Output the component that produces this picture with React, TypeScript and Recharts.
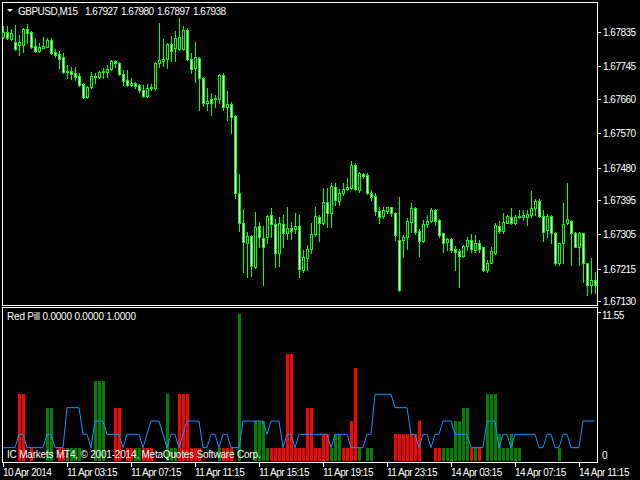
import React from "react";
import { ComposedChart, Bar, Line, XAxis, YAxis } from "recharts";

// GBPUSD M15 candles, left to right (149 bars)
const openPx = [
  1.67822, 1.67835, 1.67817, 1.67809, 1.67801, 1.67801, 1.67843, 1.67835, 1.67798, 1.67785,
  1.67793, 1.67796, 1.67814, 1.67783, 1.67777, 1.6777, 1.6773, 1.67733, 1.67728, 1.6772,
  1.67699, 1.67665, 1.67691, 1.6772, 1.67717, 1.6773, 1.6773, 1.67738, 1.67759, 1.67754,
  1.67725, 1.67709, 1.67696, 1.67701, 1.67696, 1.67683, 1.67667, 1.67688, 1.67688, 1.67754,
  1.67759, 1.67764, 1.67804, 1.67793, 1.6779, 1.6779, 1.6784, 1.67764, 1.67741, 1.67767,
  1.67714, 1.67649, 1.67659, 1.67659, 1.67659, 1.67722, 1.67639, 1.67646, 1.67615, 1.67413,
  1.67335, 1.67282, 1.67301, 1.67219, 1.67327, 1.67295, 1.67298, 1.67356, 1.67332, 1.67256,
  1.67332, 1.67308, 1.67321, 1.67319, 1.67327, 1.67211, 1.67243, 1.67266, 1.67306, 1.6735,
  1.67335, 1.6739, 1.67361, 1.67429, 1.67392, 1.67413, 1.67424, 1.67426, 1.67487, 1.67421,
  1.67463, 1.6746, 1.67413, 1.67405, 1.67366, 1.67353, 1.67366, 1.67376, 1.67361, 1.6729,
  1.6729, 1.67298, 1.67337, 1.67374, 1.67314, 1.67287, 1.67332, 1.6734, 1.67369, 1.67342,
  1.67308, 1.67285, 1.67293, 1.67266, 1.67261, 1.67248, 1.67274, 1.6729, 1.67264, 1.67282,
  1.67272, 1.67211, 1.6723, 1.67256, 1.67327, 1.67314, 1.67335, 1.6735, 1.67335, 1.6735,
  1.6735, 1.6735, 1.67356, 1.67374, 1.67392, 1.67353, 1.67316, 1.67353, 1.67308, 1.6723,
  1.67282, 1.67335, 1.6734, 1.67308, 1.67272, 1.67308, 1.6723, 1.67172, 1.67185,
];
const highPx = [
  1.67851, 1.67851, 1.67843, 1.67853, 1.67827, 1.67845, 1.67856, 1.67838, 1.67819, 1.67806,
  1.67822, 1.67819, 1.67819, 1.6779, 1.67785, 1.6778, 1.67749, 1.67743, 1.67743, 1.67728,
  1.67701, 1.67694, 1.6773, 1.67728, 1.67733, 1.67741, 1.67749, 1.67762, 1.67762, 1.67756,
  1.67735, 1.67735, 1.67714, 1.67704, 1.67699, 1.67696, 1.67699, 1.67699, 1.67756, 1.67859,
  1.67817, 1.67806, 1.67825, 1.67838, 1.67872, 1.67851, 1.67845, 1.6778, 1.67809, 1.6777,
  1.67717, 1.67688, 1.67675, 1.6767, 1.67725, 1.67728, 1.6768, 1.67652, 1.67618, 1.67463,
  1.67371, 1.67311, 1.67303, 1.67363, 1.67337, 1.67327, 1.67356, 1.67374, 1.67345, 1.6735,
  1.67356, 1.67376, 1.67337, 1.67361, 1.67356, 1.67264, 1.67277, 1.67335, 1.67376, 1.67356,
  1.67426, 1.67426, 1.67439, 1.67439, 1.67424, 1.67439, 1.67452, 1.67497, 1.67492, 1.67468,
  1.67466, 1.67466, 1.67421, 1.67413, 1.67376, 1.67376, 1.67376, 1.67376, 1.67363, 1.67403,
  1.67303, 1.67348, 1.67387, 1.67376, 1.67319, 1.67342, 1.67356, 1.67374, 1.67371, 1.67345,
  1.67308, 1.67295, 1.67295, 1.67274, 1.67266, 1.67277, 1.67298, 1.67306, 1.67303, 1.6729,
  1.67272, 1.67238, 1.67272, 1.67335, 1.6734, 1.67361, 1.67356, 1.67374, 1.67356, 1.67369,
  1.67369, 1.67369, 1.67418, 1.67397, 1.67397, 1.67369, 1.67358, 1.67356, 1.67311, 1.67282,
  1.67387, 1.67439, 1.67342, 1.67311, 1.67311, 1.67308, 1.6723, 1.67243, 1.67206,
];
const lowPx = [
  1.67819, 1.67817, 1.67814, 1.67788, 1.67775, 1.67783, 1.67806, 1.67793, 1.67783, 1.67783,
  1.67793, 1.67796, 1.67777, 1.6777, 1.67741, 1.67728, 1.67714, 1.67712, 1.67709, 1.67694,
  1.67662, 1.67662, 1.67688, 1.67701, 1.67714, 1.67714, 1.67717, 1.67735, 1.67743, 1.67722,
  1.67696, 1.67694, 1.67694, 1.67688, 1.67678, 1.67665, 1.67665, 1.67683, 1.67683, 1.67743,
  1.67746, 1.67741, 1.67759, 1.67759, 1.67788, 1.67788, 1.67762, 1.67728, 1.67704, 1.67631,
  1.67641, 1.67631, 1.67618, 1.67639, 1.67649, 1.67631, 1.67604, 1.6757, 1.674, 1.67314,
  1.67206, 1.67193, 1.67196, 1.67217, 1.67272, 1.67172, 1.67282, 1.67298, 1.67219, 1.67222,
  1.67272, 1.67293, 1.67293, 1.67308, 1.67193, 1.67206, 1.67211, 1.67256, 1.67301, 1.67287,
  1.67332, 1.67324, 1.67324, 1.67382, 1.67382, 1.67408, 1.67421, 1.67424, 1.67421, 1.67416,
  1.67452, 1.67411, 1.67395, 1.67356, 1.67335, 1.67348, 1.67361, 1.67353, 1.6729, 1.67156,
  1.67246, 1.67266, 1.67311, 1.67306, 1.67248, 1.67285, 1.67324, 1.67337, 1.67329, 1.67298,
  1.67259, 1.67264, 1.67259, 1.67211, 1.67167, 1.67246, 1.67264, 1.67259, 1.67259, 1.67259,
  1.67209, 1.67206, 1.6723, 1.67253, 1.67308, 1.67308, 1.67335, 1.67332, 1.67332, 1.67348,
  1.67342, 1.67329, 1.6735, 1.67356, 1.6735, 1.67287, 1.67298, 1.67282, 1.67225, 1.67225,
  1.6723, 1.67332, 1.67225, 1.67272, 1.67225, 1.6718, 1.67146, 1.67151, 1.67151,
];
const closePx = [
  1.67835, 1.67819, 1.67832, 1.6779, 1.67809, 1.67843, 1.67832, 1.67796, 1.67785, 1.67796,
  1.67798, 1.67814, 1.6778, 1.67775, 1.67764, 1.6773, 1.67733, 1.67725, 1.67717, 1.67696,
  1.67665, 1.67691, 1.6772, 1.67717, 1.6773, 1.67733, 1.67738, 1.67759, 1.67754, 1.67725,
  1.67707, 1.67696, 1.67701, 1.67694, 1.67683, 1.67667, 1.67688, 1.67691, 1.67754, 1.67762,
  1.67764, 1.67804, 1.67785, 1.67819, 1.67822, 1.6784, 1.67764, 1.67738, 1.6777, 1.67714,
  1.67649, 1.67654, 1.67649, 1.67662, 1.67722, 1.67639, 1.67646, 1.67612, 1.67413, 1.67335,
  1.67285, 1.67301, 1.67222, 1.67324, 1.67298, 1.67272, 1.67353, 1.67332, 1.67256, 1.67335,
  1.67308, 1.67321, 1.67314, 1.67327, 1.67214, 1.67246, 1.67266, 1.67306, 1.67353, 1.67335,
  1.6739, 1.67361, 1.67432, 1.67395, 1.67413, 1.67424, 1.67429, 1.67487, 1.67424, 1.67466,
  1.67458, 1.67413, 1.67403, 1.67366, 1.6735, 1.67369, 1.67376, 1.67361, 1.67303, 1.67159,
  1.67298, 1.6734, 1.67374, 1.67311, 1.67287, 1.67332, 1.6734, 1.67369, 1.6734, 1.67303,
  1.67282, 1.67293, 1.67264, 1.67259, 1.67248, 1.67274, 1.6729, 1.67266, 1.67282, 1.67266,
  1.67211, 1.6723, 1.67261, 1.67329, 1.67314, 1.67337, 1.67353, 1.67335, 1.6735, 1.67353,
  1.67356, 1.67358, 1.67374, 1.67392, 1.67353, 1.67311, 1.67353, 1.67308, 1.6723, 1.67282,
  1.67332, 1.67345, 1.67308, 1.67272, 1.67308, 1.6723, 1.67172, 1.67185, 1.67172,
];

// Red Pill indicator: sell histogram, buy histogram, signal line
const redPill = [
  0, 0, 0, 0, 5, 5, 0, 1, 0, 0,
  0, 0, 0, 0, 1, 1, 0, 0, 0, 0,
  0, 0, 0, 0, 0, 0, 0, 0, 4, 4,
  0, 1, 1, 0, 0, 1, 1, 1, 0, 0,
  0, 0, 0, 0, 5, 5, 5, 1, 1, 1,
  0, 0, 0, 0, 0, 1, 1, 1, 0, 0,
  0, 0, 0, 0, 0, 0, 0, 1, 1, 1,
  1, 8, 8, 1, 1, 1, 4, 4, 1, 1,
  2, 2, 0, 0, 0, 1, 1, 3, 7, 0,
  0, 0, 0, 0, 0, 0, 0, 0, 2, 2,
  2, 2, 2, 2, 3, 0, 0, 0, 1, 1,
  0, 0, 0, 0, 0, 0, 0, 1, 0, 1,
  0, 0, 0, 0, 0, 0, 0, 0, 0, 0,
  0, 0, 0, 0, 0, 0, 0, 0, 0, 0,
  0, 0, 0, 0, 0, 0, 0, 0, 0,
];
const greenPill = [
  0, 0, 0, 0, 0, 0, 0, 0, 0, 0,
  0, 4, 4, 0, 0, 0, 1, 1, 1, 1,
  0, 0, 0, 6, 6, 6, 0, 0, 0, 0,
  0, 0, 0, 1, 1, 0, 0, 0, 0, 0,
  0, 5, 1, 1, 0, 0, 0, 0, 0, 0,
  0, 0, 0, 0, 1, 0, 0, 0, 0, 11,
  0, 0, 0, 3, 3, 3, 1, 0, 0, 0,
  0, 0, 0, 0, 0, 0, 0, 0, 0, 0,
  0, 0, 1, 2, 2, 0, 0, 0, 0, 1,
  0, 1, 1, 0, 0, 0, 0, 0, 0, 0,
  0, 0, 0, 0, 0, 0, 0, 0, 0, 0,
  1, 1, 1, 3, 3, 4, 4, 0, 1, 0,
  0, 5, 5, 5, 2, 1, 1, 2, 1, 1,
  0, 0, 0, 0, 0, 0, 0, 0, 0, 1,
  0, 0, 0, 0, 0, 0, 0, 0, 0,
];
const pillLine = [
  1, 1, 1, 1, 2, 2, 1, 1, 1, 1,
  1, 2, 2, 1, 1, 1, 4, 4, 4, 4,
  2, 2, 1, 3, 3, 3, 2, 2, 2, 2,
  1, 2, 2, 2, 2, 1, 2, 3, 3, 3,
  2, 1, 2, 2, 1, 2, 3, 3, 3, 3,
  1, 1, 2, 2, 1, 2, 2, 1, 1, 1,
  3, 3, 3, 3, 3, 3, 2, 3, 3, 3,
  1, 2, 2, 1, 2, 2, 2, 2, 2, 2,
  2, 2, 1, 2, 2, 2, 2, 1, 1, 1,
  1, 2, 2, 5, 5, 5, 5, 5, 4, 4,
  4, 4, 2, 2, 1, 2, 2, 1, 2, 2,
  3, 3, 3, 2, 2, 2, 2, 1, 1, 1,
  1, 3, 3, 3, 1, 2, 2, 1, 2, 2,
  2, 2, 2, 2, 1, 1, 2, 2, 1, 1,
  2, 2, 1, 1, 1, 3, 3, 3, 3,
];

const priceTicks = [1.67835, 1.67745, 1.6766, 1.6757, 1.6748, 1.67395, 1.67305, 1.67215, 1.6713];
const timeTickIdx = [0, 16, 32, 48, 64, 80, 96, 112, 128, 144];
const timeTickText = [
  "10 Apr 2014", "11 Apr 03:15", "11 Apr 07:15", "11 Apr 11:15", "11 Apr 15:15",
  "11 Apr 19:15", "11 Apr 23:15", "14 Apr 03:15", "14 Apr 07:15", "14 Apr 11:15",
];

const rows = openPx.map((o, i) => ({
  idx: i,
  open: o,
  high: highPx[i],
  low: lowPx[i],
  close: closePx[i],
  red: redPill[i],
  green: greenPill[i],
  line: pillLine[i],
}));

const FONT = "'Liberation Sans', Arial, sans-serif";
const LIME = "#00ff00";
const txt = { fontFamily: FONT, fontSize: 10, letterSpacing: -0.5, fill: "#ffffff" };

function Candle(props: any) {
  const { x, y, width, height, payload } = props;
  const top = Math.min(y, y + height);
  const h = Math.abs(height);
  const span = payload.high - payload.low;
  const yOf = (v: number) => (span > 0 ? top + ((payload.high - v) / span) * h : top);
  const c = Math.floor(x + width / 2);
  const yh = Math.round(yOf(payload.high));
  const yl = Math.round(yOf(payload.low));
  const bt = Math.round(yOf(Math.max(payload.open, payload.close)));
  const bb = Math.round(yOf(Math.min(payload.open, payload.close)));
  const bear = payload.close < payload.open;
  return (
    <g>
      <rect x={c} y={yh} width={1} height={Math.max(1, yl - yh + 1)} fill={LIME} />
      {bb - bt >= 2 ? (
        <rect x={c - 0.5} y={bt + 0.5} width={2} height={bb - bt}
          fill={bear ? "#ffffff" : "#000000"} stroke={LIME} strokeWidth={1} />
      ) : (
        <rect x={c - 1} y={bt} width={3} height={bb - bt + 1} fill={LIME} />
      )}
    </g>
  );
}

function PillBar(props: any) {
  const { x, y, width, height, fill } = props;
  if (!height || Math.abs(height) < 0.5) return <g />;
  const c = Math.floor(x + width / 2);
  const top = Math.round(Math.min(y, y + height));
  const bot = Math.round(Math.max(y, y + height));
  return <rect x={c - 1} y={top} width={3} height={bot - top} fill={fill} />;
}

function PriceTick(props: any) {
  const { x, y, payload } = props;
  const py = Math.round(y);
  return (
    <g>
      <rect x={598} y={py} width={3} height={1} fill="#ffffff" />
      <text x={x + 6} y={py + 4} {...txt}>{payload.value.toFixed(5)}</text>
    </g>
  );
}

function PillTick(props: any) {
  const { y, payload } = props;
  if (payload.value === 0) {
    return <text x={602} y={y - 2} {...txt}>0</text>;
  }
  return (
    <g>
      <rect x={598} y={Math.round(y) + 5} width={3} height={1} fill="#ffffff" />
      <text x={602} y={y + 12} {...txt}>{payload.value.toFixed(2)}</text>
    </g>
  );
}

function TimeTick(props: any) {
  const { x, y, payload } = props;
  const k = timeTickIdx.indexOf(payload.value);
  if (k < 0) return <g />;
  const px = Math.floor(x);
  return (
    <g>
      <rect x={px} y={y + 1} width={1} height={5} fill="#ffffff" />
      <text x={px} y={y + 15} {...txt}>{timeTickText[k]}</text>
    </g>
  );
}

export default function App() {
  return (
    <div style={{ position: "fixed", left: 0, top: 0, width: 640, height: 480, background: "#000", overflow: "hidden" }}>
      <svg width={640} height={480} style={{ position: "absolute", left: 0, top: 0 }}>
        <rect x={2.5} y={2.5} width={595} height={303} fill="none" stroke="#ffffff" />
        <rect x={2.5} y={307.5} width={595} height={155} fill="none" stroke="#ffffff" />
      </svg>

      <div style={{ position: "absolute", left: 0, top: 0 }}>
        <ComposedChart width={640} height={309} data={rows} margin={{ top: 3, right: 0, bottom: 4, left: 1 }}
          barCategoryGap={0} barGap={0} style={{ overflow: "visible" }}>
          <XAxis dataKey="idx" hide />
          <YAxis orientation="right" width={43} domain={[1.6712, 1.67911]} ticks={priceTicks}
            allowDataOverflow axisLine={false} tickLine={false} tickSize={0} tickMargin={0}
            tick={<PriceTick />} interval={0} />
          <Bar dataKey={(d: any) => [d.low, d.high]} shape={<Candle />} isAnimationActive={false} />
        </ComposedChart>
      </div>

      <div style={{ position: "absolute", left: 0, top: 307 }}>
        <ComposedChart width={640} height={173} data={rows} margin={{ top: 0, right: 0, bottom: 0, left: 1 }}
          barCategoryGap={0} barGap={0}>
          <XAxis dataKey="idx" height={19} interval={15} axisLine={false} tickLine={false}
            tickSize={0} tickMargin={0} tick={<TimeTick />} />
          <YAxis orientation="right" width={43} domain={[0, 11.55]} ticks={[0, 11.55]} allowDataOverflow
            axisLine={false} tickLine={false} tickSize={0} tickMargin={0} tick={<PillTick />} interval={0} />
          <Bar dataKey="red" stackId="pill" fill="#ff0000" shape={<PillBar />} isAnimationActive={false} />
          <Bar dataKey="green" stackId="pill" fill="#008000" shape={<PillBar />} isAnimationActive={false} />
          <Line type="linear" dataKey="line" stroke="#1e90ff" strokeWidth={1} dot={false}
            activeDot={false} isAnimationActive={false} />
        </ComposedChart>
      </div>

      <svg width={640} height={480} style={{ position: "absolute", left: 0, top: 0, pointerEvents: "none" }}>
        <polygon points="7,9 13,9 10,12" fill="#ffffff" />
        <text x={18} y={15} {...txt}>GBPUSD,M15</text>
        <text x={85} y={15} {...txt}>1.67927</text>
        <text x={121} y={15} {...txt}>1.67980</text>
        <text x={157} y={15} {...txt}>1.67897</text>
        <text x={193} y={15} {...txt}>1.67938</text>
        <text x={7} y={320} {...txt} letterSpacing={-0.2}>Red Pill 0.0000 0.0000 1.0000</text>
        <text x={7} y={458} {...txt} letterSpacing={-0.2}>IC Markets MT4, © 2001-2014, MetaQuotes Software Corp.</text>
      </svg>
    </div>
  );
}
